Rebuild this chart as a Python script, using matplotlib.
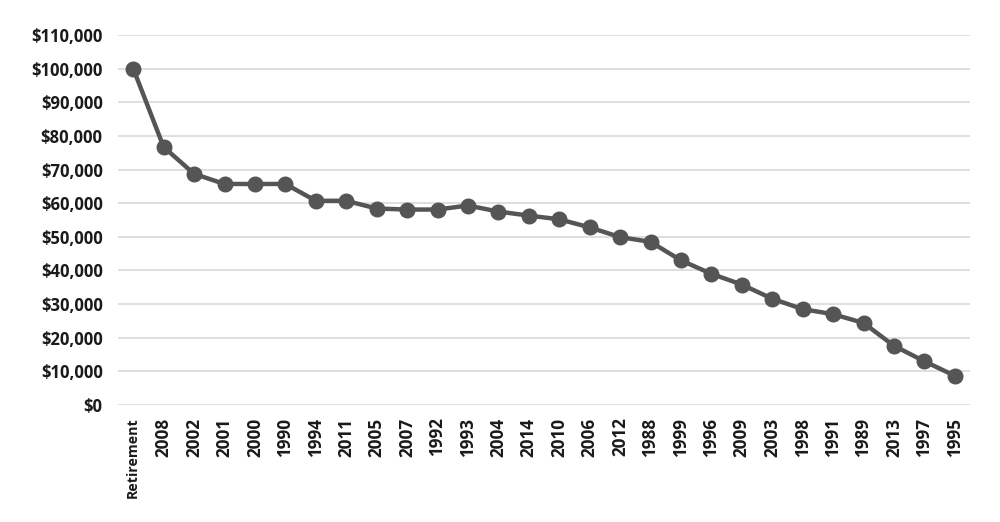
import matplotlib
matplotlib.use('Agg')
import matplotlib.pyplot as plt
import matplotlib.ticker as ticker

labels = ['Retirement', '2008', '2002', '2001', '2000', '1990', '1994', '2011',
          '2005', '2007', '1992', '1993', '2004', '2014', '2010', '2006', '2012',
          '1988', '1999', '1996', '2009', '2003', '1998', '1991', '1989', '2013',
          '1997', '1995']
values = [100000, 76700, 68700, 65700, 65700, 65700, 60700, 60700,
          58400, 58100, 58100, 59300, 57500, 56300, 55200, 52800, 49900,
          48500, 43000, 39000, 35800, 31600, 28500, 27000, 24400, 17600,
          13000, 8700]

plt.rcParams['font.family'] = ['Open Sans', 'DejaVu Sans']

fig = plt.figure(figsize=(10, 5.22), dpi=100)
ax = fig.add_axes([0.118, 0.2241, 0.852, 0.709])

x = list(range(len(labels)))
ax.plot(x, values, color='#555555', linewidth=3.2, marker='o',
        markersize=10.5, zorder=3)

ax.set_ylim(0, 110000)
ax.set_xlim(-0.5, len(labels) - 0.5)
ax.yaxis.set_major_locator(ticker.MultipleLocator(10000))
ax.yaxis.set_major_formatter(ticker.FuncFormatter(lambda v, pos: f'${v:,.0f}'))
ax.grid(axis='y', color='#d9d9d9', linewidth=1.2)
ax.set_axisbelow(True)
for s in ax.spines.values():
    s.set_visible(False)

ax.set_xticks(x)
ax.set_xticklabels(labels, rotation=90, fontsize=12.3, fontweight='bold', color='#1a1a1a')
# first label is set in a condensed face in the original, so shrink it a bit
ax.get_xticklabels()[0].set_fontsize(10.2)
for t in ax.get_yticklabels():
    t.set_fontsize(12)
    t.set_fontweight('bold')
    t.set_color('#1a1a1a')
ax.tick_params(axis='both', length=0)
ax.tick_params(axis='y', pad=11)
ax.tick_params(axis='x', pad=9)

fig.savefig('out.png', dpi=100)
